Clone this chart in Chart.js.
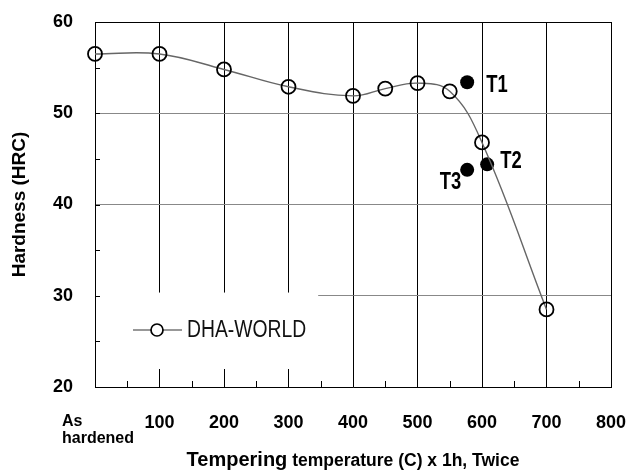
<!DOCTYPE html>
<html><head><meta charset="utf-8">
<script src="https://cdn.jsdelivr.net/npm/chart.js@4/dist/chart.umd.min.js"></script>
<style>html,body{margin:0;padding:0;background:#fff}#wrap{width:638px;height:474px}</style>
</head><body><div id="wrap"><canvas id="c" width="638" height="474"></canvas></div>
<script>
const seriesName = 'DHA-WORLD';
const temps = [0, 100, 200, 300, 400, 450, 500, 550, 600, 700];
const hardness = [56.5, 56.5, 54.8, 52.9, 51.9, 52.7, 53.3, 52.4, 46.8, 28.5];
const tLabels = ['T1', 'T2', 'T3'];
const tTemps = [577, 608, 577];
const tHardness = [53.4, 44.4, 43.8];
const xTickLabels = [['As', 'hardened'], '100', '200', '300', '400', '500', '600', '700', '800'];
const yTickLabels = ['20', '30', '40', '50', '60'];
const xTitleParts = ['Tempering', ' temperature (C) x 1h, Twice'];
const yTitle = 'Hardness (HRC)';

const FF = "'Liberation Sans', Arial, Helvetica, sans-serif";

const decor = {
  id: 'decor',
  beforeDatasetsDraw(chart) {
    const {ctx, chartArea: ca, scales: {x, y}} = chart;
    ctx.save();
    // white legend box that hides the grid
    const bx1 = x.getPixelForValue(346);
    const by0 = y.getPixelForValue(30.35);
    ctx.fillStyle = '#fff';
    ctx.fillRect(ca.left + 1, by0, bx1 - ca.left - 1, ca.bottom - 18 - by0);
    // inward minor tick marks
    ctx.strokeStyle = '#000';
    ctx.lineWidth = 1;
    ctx.beginPath();
    for (let v = 50; v < 800; v += 100) {
      const px = Math.round(x.getPixelForValue(v)) + 0.5;
      ctx.moveTo(px, ca.bottom);
      ctx.lineTo(px, ca.bottom - 6);
    }
    for (let v = 25; v < 60; v += 5) {
      const py = Math.round(y.getPixelForValue(v)) + 0.5;
      ctx.moveTo(ca.left, py);
      ctx.lineTo(ca.left + 5, py);
    }
    ctx.stroke();
    // legend entry
    const ds = chart.data.datasets[0];
    const lx = ca.left + 38, ly = ca.bottom - 57;
    ctx.strokeStyle = '#333';
    ctx.lineWidth = 1.2;
    ctx.beginPath();
    ctx.moveTo(lx, ly); ctx.lineTo(lx + 49, ly);
    ctx.stroke();
    ctx.beginPath();
    ctx.arc(lx + 24, ly, 6, 0, Math.PI * 2);
    ctx.fillStyle = '#fff';
    ctx.fill();
    ctx.strokeStyle = '#000';
    ctx.lineWidth = 1.7;
    ctx.stroke();
    ctx.translate(lx + 54, ly + 1);
    ctx.scale(0.84, 1);
    ctx.fillStyle = '#111';
    ctx.font = '23px ' + FF;
    ctx.textBaseline = 'middle';
    ctx.textAlign = 'left';
    ctx.fillText(ds.label, 0, 0);
    ctx.restore();
  },
  afterDatasetsDraw(chart) {
    const {ctx} = chart;
    const meta = chart.getDatasetMeta(1);
    const offs = [[19, 3, 'left'], [13, -3, 'left'], [-6, 13, 'right']];
    ctx.save();
    ctx.fillStyle = '#000';
    ctx.font = 'bold 23px ' + FF;
    ctx.textBaseline = 'middle';
    meta.data.forEach((pt, i) => {
      const [dx, dy, al] = offs[i];
      ctx.save();
      ctx.translate(pt.x + dx, pt.y + dy);
      ctx.scale(0.8, 1);
      ctx.textAlign = al;
      ctx.fillText(tLabels[i], 0, 0);
      ctx.restore();
    });
    ctx.restore();
  },
  afterDraw(chart) {
    const {ctx, chartArea: ca, scales: {x}} = chart;
    ctx.save();
    ctx.fillStyle = '#000';
    ctx.textBaseline = 'alphabetic';
    ctx.textAlign = 'left';
    // "As hardened" tick label, left aligned
    ctx.font = 'bold 16px ' + FF;
    const x0 = x.getPixelForValue(0) - 33;
    ctx.fillText(xTickLabels[0][0], x0, ca.bottom + 39);
    ctx.fillText(xTickLabels[0][1], x0, ca.bottom + 56);
    // x title with two font sizes
    const f1 = 'bold 20px ' + FF, f2 = 'bold 17.5px ' + FF;
    ctx.font = f1; const w1 = ctx.measureText(xTitleParts[0]).width;
    ctx.font = f2; const w2 = ctx.measureText(xTitleParts[1]).width;
    const cx = (ca.left + ca.right) / 2;
    const sx = cx - (w1 + w2) / 2;
    const by = ca.bottom + 79;
    ctx.font = f1; ctx.fillText(xTitleParts[0], sx, by);
    ctx.font = f2; ctx.fillText(xTitleParts[1], sx + w1, by);
    ctx.restore();
  }
};

new Chart(document.getElementById('c'), {
  type: 'line',
  data: {
    datasets: [
      {
        label: seriesName,
        data: temps.map((t, i) => ({x: t, y: hardness[i]})),
        borderColor: '#666',
        borderWidth: 1.4,
        tension: 0.4,
        pointRadius: 7,
        pointBorderWidth: 1.8,
        pointBorderColor: '#000',
        pointBackgroundColor: 'rgba(0,0,0,0)',
        fill: false,
        clip: false
      },
      {
        label: 'T',
        data: tTemps.map((t, i) => ({x: t, y: tHardness[i]})),
        showLine: false,
        pointRadius: 7,
        pointBorderWidth: 0,
        pointBackgroundColor: '#000',
        pointBorderColor: '#000',
        clip: false
      }
    ]
  },
  options: {
    responsive: false,
    animation: false,
    devicePixelRatio: 1,
    layout: {padding: {left: 0, top: 22, right: 27, bottom: 0}},
    plugins: {legend: {display: false}, tooltip: {enabled: false}},
    scales: {
      x: {
        type: 'linear', min: 0, max: 800,
        ticks: {
          stepSize: 100, autoSkip: false, maxRotation: 0, padding: 25,
          color: '#000', font: {family: FF, size: 18, weight: 'bold'},
          callback: (v, i) => i === 0 ? '' : xTickLabels[i]
        },
        grid: {color: '#000', lineWidth: 1, drawTicks: false},
        border: {color: '#000', width: 1},
        afterFit: s => { s.height = 87; s.paddingLeft = 0; s.paddingRight = 0; }
      },
      y: {
        min: 20, max: 60,
        ticks: {
          stepSize: 10, padding: 22, color: '#000',
          font: {family: FF, size: 18, weight: 'bold'},
          callback: (v, i) => yTickLabels[i]
        },
        grid: {color: c => (c.tick && c.tick.value === 60) ? '#000' : '#888', lineWidth: 1, drawTicks: false},
        border: {color: '#000', width: 1},
        title: {display: true, text: yTitle, color: '#000', padding: {top: 8, bottom: 0},
                font: {family: FF, size: 19, weight: 'bold'}},
        afterFit: s => { s.width = 95; s.paddingTop = 0; s.paddingBottom = 0; }
      }
    }
  },
  plugins: [decor]
});
</script>
</body></html>
